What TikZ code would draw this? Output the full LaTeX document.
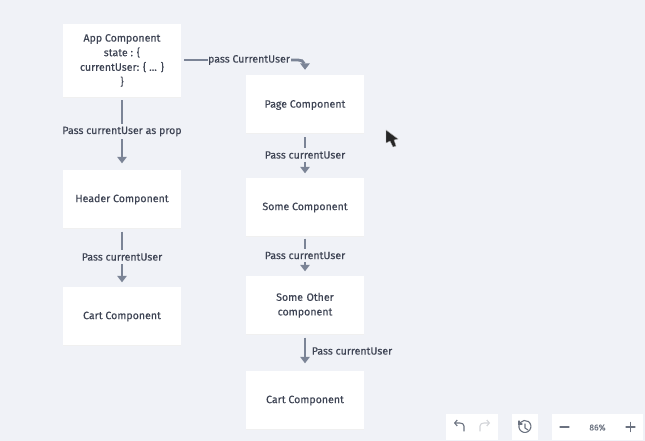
\documentclass[tikz,border=0pt]{standalone}
\usepackage{fontspec}
\setmainfont[FakeBold=0.25]{Fira Sans}
\usetikzlibrary{arrows.meta,bending,shadows,calc}
\definecolor{bgc}{HTML}{F0F2F7}
\definecolor{linec}{HTML}{7B8496}
\definecolor{txtc}{HTML}{3E4454}
\definecolor{iconc}{HTML}{6B7280}
\newcommand\tp{\rule{0pt}{9.5pt}}
\tikzset{
  comp/.style={fill=white,draw=none,minimum width=118pt,inner sep=0pt,align=center,text=txtc,font=\fontsize{10.6}{14.6}\selectfont,
    general shadow={shadow xshift=0pt,shadow yshift=-1pt,fill=black!6}},
  lab/.style={text=txtc,font=\fontsize{10.6}{12}\selectfont,inner sep=0pt},
  seg/.style={draw=linec,line width=2.8pt},
  arr/.style={seg,-{Triangle[length=6.5pt,width=9.5pt,flex=0]}},
  tool/.style={fill=white,draw=none,inner sep=0pt},
  icon/.style={draw=iconc,line width=1.1pt,line cap=round},
}
\begin{document}
\begin{tikzpicture}[x=1pt,y=-1pt]
\useasboundingbox (0,0) rectangle (645,441);
\fill[bgc] (0,0) rectangle (645,441);

\node[comp,minimum height=73pt] (app) at (122,60.5) {App Component\\state : \{\\currentUser: \{ ... \}\\\}};
\node[comp,minimum height=58pt] (header) at (122,198.5) {\tp Header Component};
\node[comp,minimum height=58pt] (cartl) at (122,315.5) {\tp Cart Component};
\node[comp,minimum height=58pt] (page) at (305,104) {\tp Page Component};
\node[comp,minimum height=58pt] (some) at (305,206.5) {\tp Some Component};
\node[comp,minimum height=58pt,text width=90pt] (other) at (305,304.5) {\tp Some Other\\component};
\node[comp,minimum height=58pt] (cartr) at (305,399.5) {\tp Cart Component};

\node[lab] (l1) at (122,131.5) {Pass currentUser as prop};
\node[lab] (l2) at (122,257) {Pass currentUser};
\node[lab] (l3) at (249,60) {pass CurrentUser};
\node[lab] (l4) at (305,155) {Pass currentUser};
\node[lab] (l5) at (305,255.5) {Pass currentUser};
\node[lab] (l6) at (352,351) {Pass currentUser};

\coordinate (c3a) at (184,60);
\draw[seg] (app.south) ++(0,3) -- ($(l1.north)+(0,-3)$);
\draw[arr] ($(l1.south)+(0,3)$) -- ($(header.north)+(0,-6)$);
\draw[seg] (header.south) ++(0,4) -- ($(l2.north)+(0,-3)$);
\draw[arr] ($(l2.south)+(0,3)$) -- ($(cartl.north)+(0,-4)$);
\draw[seg] (c3a) -- (l3.west);
\draw[arr] (l3.east) ++(1,0) -- (298,60) .. controls (303,60) and (305,62) .. ($(page.north)+(0,-5)$);
\draw[seg] (page.south) ++(0,4) -- ($(l4.north)+(0,-3)$);
\draw[arr] ($(l4.south)+(0,3)$) -- ($(some.north)+(0,-4)$);
\draw[seg] (some.south) ++(0,3) -- ($(l5.north)+(0,-3)$);
\draw[arr] ($(l5.south)+(0,3)$) -- ($(other.north)+(0,-4)$);
\draw[arr] (other.south) ++(0,4) -- ($(cartr.north)+(0,-7)$);

% cursor
\fill[black!85,draw=black!30,line width=.4pt] (386,130) -- (386,143) -- (390,141) -- (393,147) -- (396,146) -- (394,140) -- (398,139) -- cycle;

% toolbar
\node[tool,minimum width=52pt,minimum height=26pt] (undo) at (472,427) {};
\node[tool,minimum width=26pt,minimum height=26pt] (hist) at (525,427) {};
\node[tool,minimum width=91pt,minimum height=26pt] (zoom) at (597.5,427) {};
\node[text=iconc,font=\fontsize{8.5}{10}\selectfont,inner sep=0pt] (pct) at (597.5,427.5) {86\%};
% undo
\draw[icon,-{Straight Barb[length=2.5pt,width=6pt]}] (464,431) -- (464,426) .. controls (464,424) and (462,423) .. (460,423) -- (454,423);
% redo
\draw[icon,draw=iconc!30,-{Straight Barb[length=2.5pt,width=6pt]}] (480,431) -- (480,426) .. controls (480,424) and (482,423) .. (484,423) -- (490,423);
% history
\draw[icon] (520,423) arc[start angle=215,end angle=-140,radius=6];
\draw[icon] (525,424) -- (525,428) -- (528,430);
\draw[icon] (519,421) -- (519,424) -- (522,424);
% minus plus
\draw[icon,line width=1.3pt] (560,427) -- (569,427);
\draw[icon,line width=1.3pt] (626,427) -- (635,427);
\draw[icon,line width=1.3pt] (630.5,422.5) -- (630.5,431.5);
\end{tikzpicture}
\end{document}
